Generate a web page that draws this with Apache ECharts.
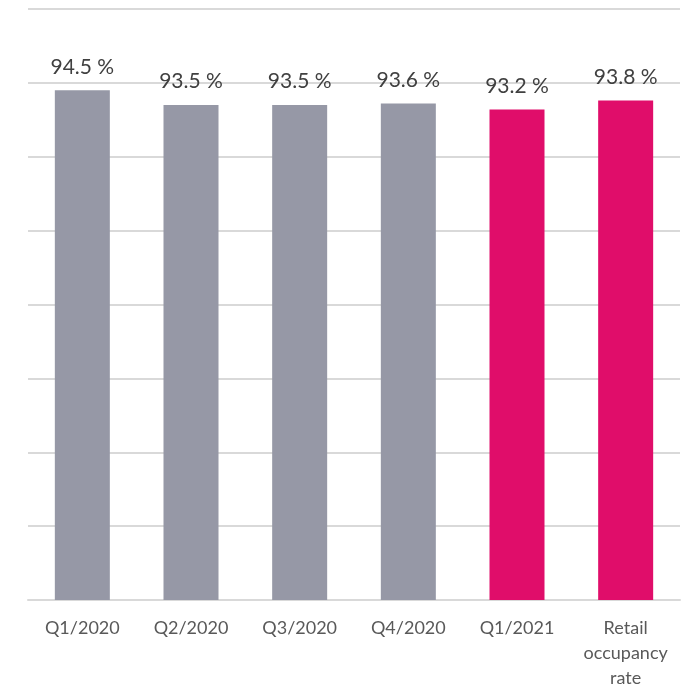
<!DOCTYPE html>
<html>
<head>
<meta charset="utf-8">
<script src="https://cdn.jsdelivr.net/npm/echarts@6/dist/echarts.min.js"></script>
<style>
  html, body { margin: 0; padding: 0; background: #fff; }
  #chart { width: 690px; height: 687px; }
</style>
</head>
<body>
<div id="chart"></div>
<script>
// categories and occupancy values (%)
var categories = ["Q1/2020", "Q2/2020", "Q3/2020", "Q4/2020", "Q1/2021", "Retail\noccupancy\nrate"];
var occupancy = [94.5, 93.5, 93.5, 93.6, 93.2, 93.8];
// last two bars are highlighted
var highlighted = [false, false, false, false, true, true];

var GREY = "#9698a6";
var PINK = "#e00d6a";

var chart = echarts.init(document.getElementById("chart"));

chart.setOption({
  animation: false,
  grid: { left: 28, right: 10, top: 9, bottom: 87, outerBoundsMode: "none" },
  xAxis: {
    type: "category",
    data: categories,
    axisLine: { lineStyle: { color: "#d9d9d9", width: 2 } },
    axisTick: { show: false },
    axisLabel: {
      interval: 0,
      hideOverlap: false,
      color: "#595959",
      fontSize: 18,
      fontFamily: "Lato",
      margin: 16,
      lineHeight: 25
    }
  },
  yAxis: {
    type: "value",
    min: 60,
    max: 100,
    interval: 5,
    axisLabel: { show: false },
    axisLine: { show: false },
    axisTick: { show: false },
    splitLine: { lineStyle: { color: "#d9d9d9", width: 2 } }
  },
  series: [
    {
      type: "bar",
      barWidth: 55,
      data: occupancy.map(function (v, i) {
        return { value: v, itemStyle: { color: highlighted[i] ? PINK : GREY } };
      }),
      label: {
        show: true,
        position: "top",
        distance: 13,
        color: "#404040",
        fontSize: 21,
        fontFamily: "Lato",
        formatter: function (p) { return p.value.toFixed(1) + " %"; }
      }
    }
  ]
});
</script>
</body>
</html>
